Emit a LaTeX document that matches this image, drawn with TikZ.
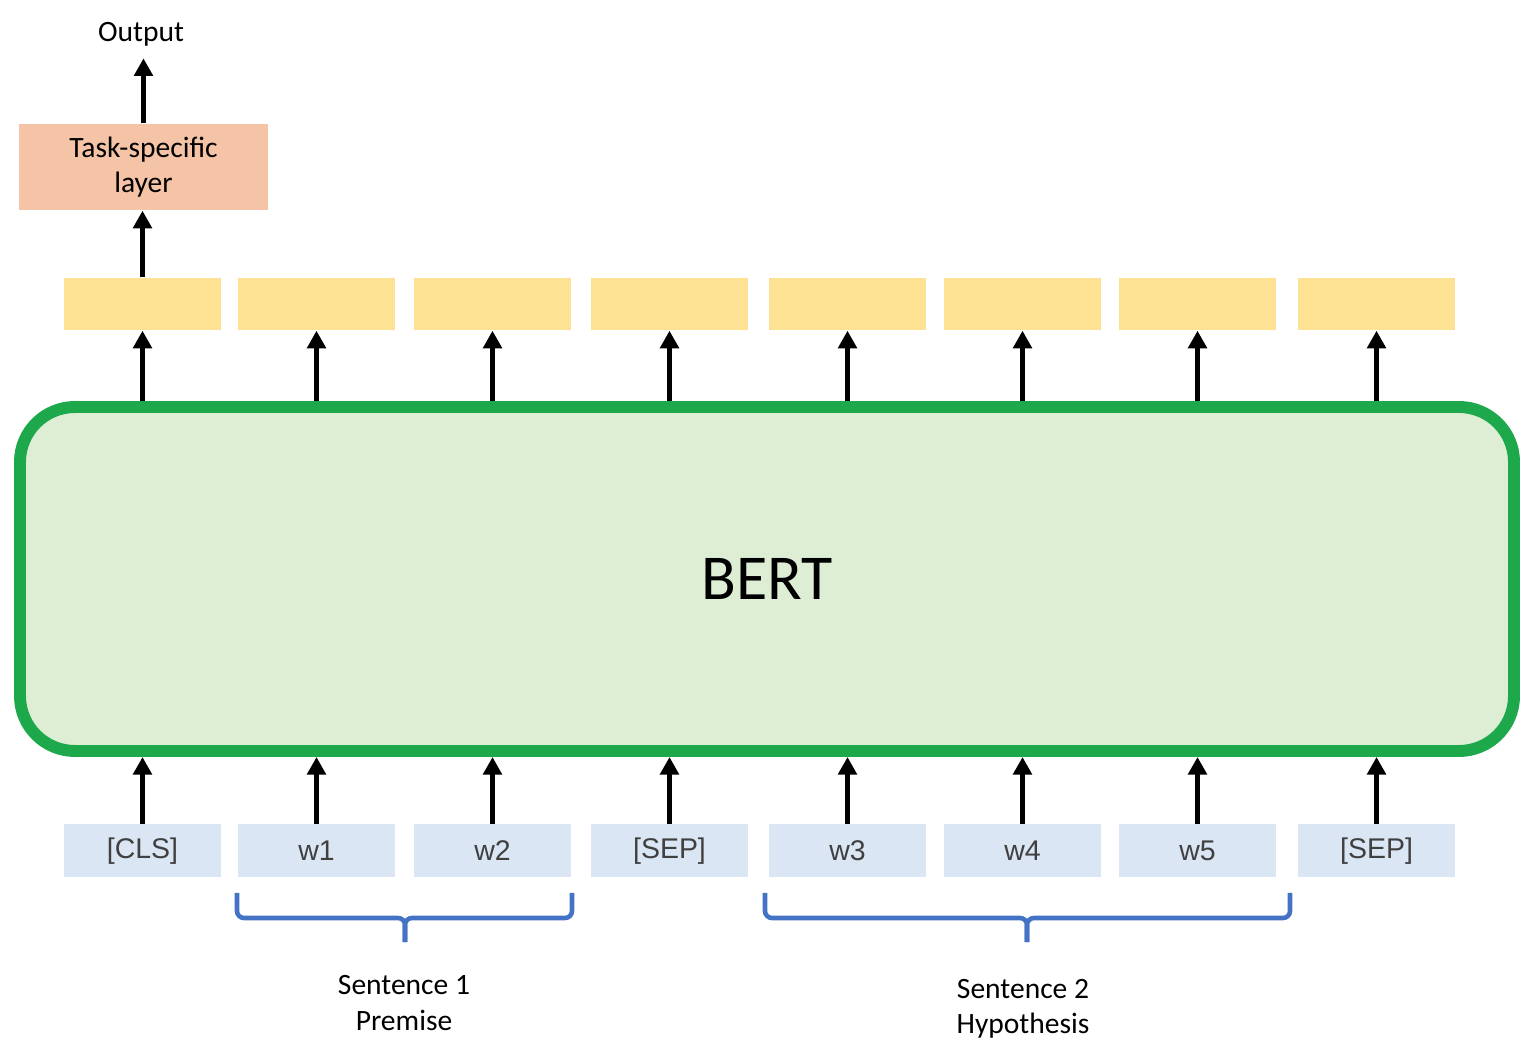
\documentclass[tikz,border=0pt]{standalone}
\usepackage{fontspec}
\setmainfont{Carlito}
\newfontfamily\tokfont{Liberation Sans}
\usepackage{tikz}
\usetikzlibrary{positioning, arrows.meta}
\definecolor{BertFill}{HTML}{DEEED5}
\definecolor{BertLine}{HTML}{1DA84C}
\definecolor{TaskFill}{HTML}{F5C4A7}
\definecolor{OutFill}{HTML}{FDE293}
\definecolor{TokFill}{HTML}{DAE6F3}
\definecolor{TokText}{HTML}{404040}
\definecolor{BraceCol}{HTML}{4472C4}

\begin{document}
\begin{tikzpicture}[x=1cm, y=1cm,
  tokbox/.style={fill=TokFill, minimum width=1.57cm, minimum height=0.53cm,
    inner sep=0pt, font=\tokfont\fontsize{8.1}{9}\selectfont, text=TokText},
  outbox/.style={fill=OutFill, minimum width=1.57cm, minimum height=0.52cm, inner sep=0pt},
  uparrow/.style={-{Triangle[width=5.2pt, length=5pt]}, line width=1.6pt},
  bracket/.style={BraceCol, line width=1.3pt, rounded corners=0.07cm},
  lbl/.style={font=\fontsize{8.4}{10}\selectfont, align=center}]

  %% Page frame
  \useasboundingbox (0,0) rectangle (15.36,-10.49);

  %% Row settings
  \def\yTok{-8.51}    % token row centre
  \def\yOut{-3.04}    % output vector row centre
  \def\yBrT{-8.93}    % top of brackets
  \def\yBrM{-9.18}    % bracket bar
  \def\yBrB{-9.42}    % bracket tip

  %% BERT block
  \node[draw=BertLine, fill=BertFill, line width=3.4pt, rounded corners=0.55cm,
    minimum width=14.94cm, minimum height=3.44cm,
    font=\fontsize{18.2}{22}\selectfont] (bert) at (7.67,-5.79) {BERT};

  %% Input tokens and output vectors
  \foreach \i/\xl/\txt in {
    1/0.64/{[CLS]}, 2/2.38/{w1}, 3/4.14/{w2}, 4/5.91/{[SEP]},
    5/7.69/{w3}, 6/9.44/{w4}, 7/11.19/{w5}, 8/12.98/{[SEP]}
  }{
    \node[tokbox] (tok\i) at (\xl+0.785, \yTok) {\txt};
    \node[outbox] (out\i) at (\xl+0.785, \yOut) {};
  }

  %% Arrows into and out of BERT
  \foreach \i in {1,...,8}{
    \draw[uparrow] (tok\i.north) -- (tok\i.north |- bert.south);
    \draw[uparrow] (out\i.south |- bert.north) -- (out\i.south);
  }

  %% Task-specific head
  \node[fill=TaskFill, minimum width=2.49cm, minimum height=0.86cm, lbl]
    (task) at (1.435,-1.67) {Task-specific\\layer};
  \node[lbl] (output) at (1.41,-0.34) {Output};
  \draw[uparrow] (out1.north) -- (out1.north |- task.south);
  \draw[uparrow] (task.north) -- (task.north |- output.south);

  %% Sentence brackets
  \draw[bracket] (2.37,\yBrT) -- (2.37,\yBrM) -- (4.05,\yBrM) -- (4.05,\yBrB);
  \draw[bracket] (5.72,\yBrT) -- (5.72,\yBrM) -- (4.05,\yBrM) -- (4.05,\yBrB);
  \draw[bracket] (7.65,\yBrT) -- (7.65,\yBrM) -- (10.27,\yBrM) -- (10.27,\yBrB);
  \draw[bracket] (12.90,\yBrT) -- (12.90,\yBrM) -- (10.27,\yBrM) -- (10.27,\yBrB);

  \node[lbl] (sent1) at (4.04,-10.03) {Sentence 1\\Premise};
  \node[lbl] (sent2) at (10.23,-10.09) {Sentence 2\\Hypothesis};

\end{tikzpicture}
\end{document}
